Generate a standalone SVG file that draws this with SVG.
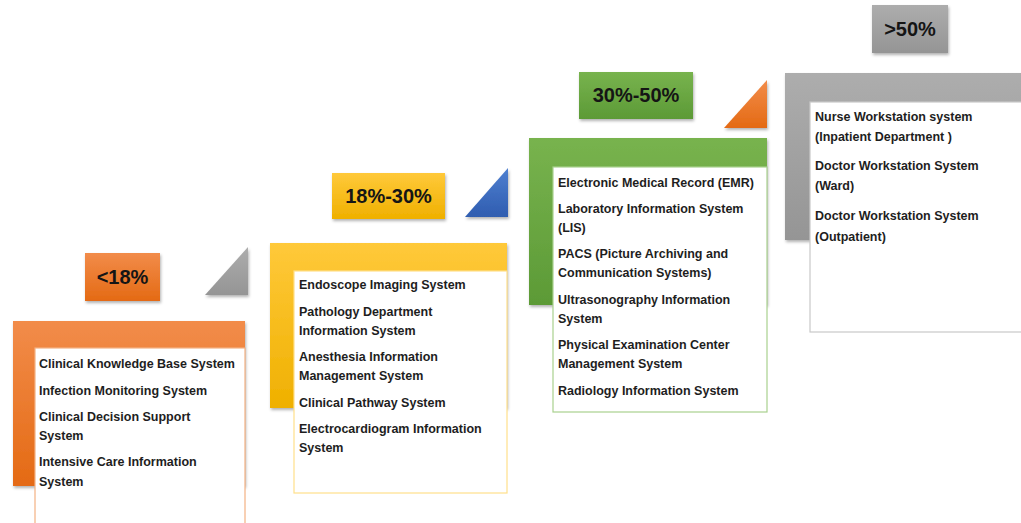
<svg xmlns="http://www.w3.org/2000/svg" width="1021" height="523" viewBox="0 0 1021 523">
<defs>
<linearGradient id="gOr" x1="0" y1="0" x2="0" y2="1"><stop offset="0" stop-color="#F28C4A"/><stop offset="1" stop-color="#E46A14"/></linearGradient>
<linearGradient id="gYe" x1="0" y1="0" x2="0" y2="1"><stop offset="0" stop-color="#FFC93A"/><stop offset="1" stop-color="#EFB000"/></linearGradient>
<linearGradient id="gGr" x1="0" y1="0" x2="0" y2="1"><stop offset="0" stop-color="#78B34E"/><stop offset="1" stop-color="#5C9A36"/></linearGradient>
<linearGradient id="gGy" x1="0" y1="0" x2="0" y2="1"><stop offset="0" stop-color="#ADADAD"/><stop offset="1" stop-color="#959595"/></linearGradient>
<linearGradient id="gBl" x1="0" y1="0" x2="0" y2="1"><stop offset="0" stop-color="#4F7FD0"/><stop offset="1" stop-color="#2F5DB0"/></linearGradient>
<filter id="sh" x="-10%" y="-10%" width="130%" height="130%"><feDropShadow dx="1" dy="2" stdDeviation="1.5" flood-color="#000" flood-opacity="0.3"/></filter>
<style>
.lbl{font-family:"Liberation Sans",Arial,sans-serif;font-weight:bold;font-size:20px;fill:#151515;text-anchor:middle}
.it{font-family:"Liberation Sans",Arial,sans-serif;font-weight:bold;font-size:12.5px;fill:#1e1e1e}
.box{fill:#fff;stroke-width:1.2}
</style>
</defs>
<rect width="1021" height="523" fill="#fff"/>

<g id="stage1">
<rect x="85" y="253" width="75" height="48" fill="url(#gOr)" filter="url(#sh)"/>
<text class="lbl" x="122.5" y="284">&lt;18%</text>
<polygon points="205,295 248,295 248,247" fill="url(#gGy)" filter="url(#sh)"/>
<rect x="13" y="321" width="232" height="165" fill="url(#gOr)" filter="url(#sh)"/>
<rect class="box" x="35" y="348" width="210" height="182" stroke="#F4B183"/>
<text class="it" x="39" y="368">Clinical Knowledge Base System</text>
<text class="it" x="39" y="395">Infection Monitoring System</text>
<text class="it" x="39" y="421">Clinical Decision Support</text>
<text class="it" x="39" y="440">System</text>
<text class="it" x="39" y="466">Intensive Care Information</text>
<text class="it" x="39" y="486">System</text>
</g>

<g id="stage2">
<rect x="332" y="173" width="113" height="46" fill="url(#gYe)" filter="url(#sh)"/>
<text class="lbl" x="388.5" y="203">18%-30%</text>
<polygon points="465,217 508,217 508,168" fill="url(#gBl)" filter="url(#sh)"/>
<rect x="270" y="243" width="237" height="165" fill="url(#gYe)" filter="url(#sh)"/>
<rect class="box" x="294" y="271" width="213" height="222" stroke="#FFE08A"/>
<text class="it" x="299" y="289">Endoscope Imaging System</text>
<text class="it" x="299" y="316">Pathology Department</text>
<text class="it" x="299" y="335">Information System</text>
<text class="it" x="299" y="361">Anesthesia Information</text>
<text class="it" x="299" y="380">Management System</text>
<text class="it" x="299" y="407">Clinical Pathway System</text>
<text class="it" x="299" y="433">Electrocardiogram Information</text>
<text class="it" x="299" y="452">System</text>
</g>

<g id="stage3">
<rect x="579" y="72" width="114" height="47" fill="url(#gGr)" filter="url(#sh)"/>
<text class="lbl" x="636" y="102">30%-50%</text>
<polygon points="724,128 767,128 767,80" fill="url(#gOr)" filter="url(#sh)"/>
<rect x="529" y="138" width="238" height="167" fill="url(#gGr)" filter="url(#sh)"/>
<rect class="box" x="553" y="167" width="214" height="245" stroke="#A9D18E"/>
<text class="it" x="558" y="187">Electronic Medical Record (EMR)</text>
<text class="it" x="558" y="213">Laboratory Information System</text>
<text class="it" x="558" y="232">(LIS)</text>
<text class="it" x="558" y="258">PACS (Picture Archiving and</text>
<text class="it" x="558" y="277">Communication Systems)</text>
<text class="it" x="558" y="304">Ultrasonography Information</text>
<text class="it" x="558" y="323">System</text>
<text class="it" x="558" y="349">Physical Examination Center</text>
<text class="it" x="558" y="368">Management System</text>
<text class="it" x="558" y="395">Radiology Information System</text>
</g>

<g id="stage4">
<rect x="872" y="5" width="76" height="48" fill="url(#gGy)" filter="url(#sh)"/>
<text class="lbl" x="910" y="36">&gt;50%</text>
<rect x="785" y="73" width="245" height="167" fill="url(#gGy)" filter="url(#sh)"/>
<rect class="box" x="810" y="102" width="220" height="230" stroke="#C9C9C9"/>
<text class="it" x="815" y="121">Nurse Workstation system</text>
<text class="it" x="815" y="141">(Inpatient Department )</text>
<text class="it" x="815" y="170">Doctor Workstation System</text>
<text class="it" x="815" y="190">(Ward)</text>
<text class="it" x="815" y="220">Doctor Workstation System</text>
<text class="it" x="815" y="241">(Outpatient)</text>
</g>

<g id="connectors"></g>
</svg>
